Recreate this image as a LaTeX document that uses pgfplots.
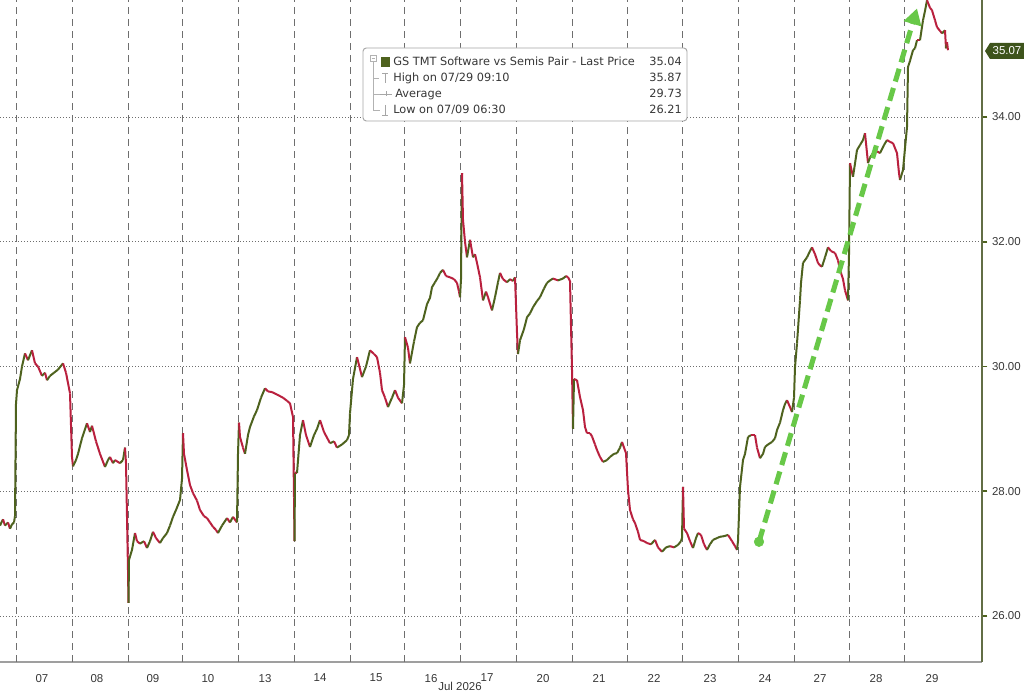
\documentclass[border=0pt]{standalone}
\usepackage{pgfplots}
\pgfplotsset{compat=1.18}
\usepackage{pgfplotstable}
\usepackage{fontspec}
\setmainfont{Liberation Sans}
\newfontfamily\legfont{DejaVu Sans}
\usetikzlibrary{arrows.meta}

\definecolor{upc}{RGB}{78,98,30}
\definecolor{dnc}{RGB}{185,32,62}
\definecolor{arrowgreen}{RGB}{104,200,72}
\definecolor{boxgreen}{RGB}{62,84,28}
\definecolor{gridc}{RGB}{110,110,110}
\definecolor{txt}{RGB}{55,55,55}

% x: position on the chart (intraday time, px scale), y: price
\pgfplotstableread{
x y
0 27.45
3 27.55
5 27.45
8 27.5
10 27.4
12 27.47
14 27.5
15 27.6
16 29.4
17 29.62
20 29.8
22 30.0
25 30.21
28 30.1
32 30.26
35 30.05
38 30.0
42 29.85
45 29.9
47 29.78
50 29.85
54 29.9
58 29.95
63 30.05
66 29.9
70 29.57
72 28.55
73 28.4
76 28.5
78 28.6
82 28.85
87 29.09
90 28.95
92 29.05
96 28.8
100 28.6
105 28.39
108 28.5
110 28.55
113 28.45
115 28.5
120 28.45
123 28.5
125 28.7
126 28.45
128 26.74
128.5 26.21
129 26.9
132 27.06
135 27.33
137 27.2
140 27.16
144 27.2
147 27.09
150 27.2
153 27.35
156 27.25
160 27.17
163 27.25
167 27.33
170 27.45
173 27.59
176 27.7
180 27.86
182 28.2
183 28.93
184 28.6
187 28.34
190 28.1
193 27.97
197 27.85
200 27.7
204 27.6
207 27.57
210 27.5
213 27.43
216 27.38
218 27.33
222 27.45
227 27.57
230 27.5
233 27.59
237 27.5
238 28.6
239 29.1
240 28.87
243 28.7
245 28.6
248 28.9
250 29.03
254 29.2
257 29.3
261 29.5
265 29.65
268 29.6
272 29.59
277 29.55
283 29.5
287 29.45
290 29.41
293 29.19
294 27.9
294.5 27.2
295 28.3
297 28.29
300 28.9
303 29.14
306 28.9
310 28.71
314 28.9
317 29.0
320 29.14
324 28.95
330 28.77
334 28.8
337 28.7
342 28.75
347 28.82
349 28.9
350 29.25
353 29.8
357 30.15
362 29.83
366 30.0
370 30.26
374 30.2
377 30.15
380 29.9
382 29.62
385 29.5
388 29.35
392 29.5
395 29.62
398 29.5
402 29.41
404 29.7
405 30.47
408 30.3
410 30.05
414 30.4
417 30.63
420 30.7
423 30.74
427 31.0
430 31.1
432 31.27
435 31.35
438 31.43
440 31.5
443 31.55
446 31.45
450 31.43
454 31.4
457 31.34
459 31.2
460 31.11
461 31.4
462 33.1
463 32.35
465 32.0
467 31.75
470 32.03
473 31.75
475 31.8
477 31.66
480 31.43
483 31.06
486 31.2
488 31.11
492 30.9
495 31.11
498 31.35
500 31.5
503 31.4
507 31.35
510 31.4
513 31.37
515 31.43
517 30.54
518 30.2
520 30.42
524 30.6
527 30.79
530 30.85
533 30.95
537 31.05
540 31.11
544 31.25
547 31.34
550 31.38
553 31.41
558 31.38
563 31.41
566 31.45
568 31.43
570 31.37
572 29.94
573 29.0
574 29.8
577 29.78
580 29.51
583 29.3
585 29.03
587 28.93
590 28.93
592 28.88
595 28.75
597 28.66
600 28.55
603 28.47
607 28.5
610 28.55
614 28.6
617 28.61
620 28.7
622 28.79
626 28.61
628 28.02
630 27.7
633 27.55
635 27.49
638 27.35
640 27.22
644 27.2
647 27.17
651 27.15
655 27.22
658 27.1
662 27.03
666 27.1
670 27.12
674 27.1
678 27.14
681 27.2
682 27.25
683 28.07
684 27.4
687 27.33
690 27.2
693 27.09
696 27.25
698 27.33
701 27.3
704 27.15
707 27.06
710 27.15
713 27.22
717 27.25
720 27.27
724 27.28
728 27.3
732 27.2
735 27.12
737 27.06
738 27.2
740 28.07
743 28.5
745 28.6
748 28.87
751 28.9
755 28.9
757 28.7
760 28.53
763 28.6
765 28.71
768 28.75
772 28.79
775 28.85
777 28.98
780 29.1
783 29.3
785 29.4
787 29.46
790 29.35
792 29.27
794 29.5
795 29.99
797 30.37
800 31.06
801 31.34
803 31.66
807 31.75
810 31.85
812 31.91
815 31.8
818 31.66
820 31.62
822 31.6
825 31.75
828 31.91
831 31.85
835 31.82
838 31.7
840 31.55
843 31.4
845 31.22
848 31.06
849 31.8
850 33.26
853 33.04
857 33.47
860 33.55
863 33.63
865 33.74
868 33.26
870 33.35
873 33.42
877 33.45
880 33.42
884 33.55
887 33.63
890 33.6
893 33.58
897 33.42
899 33.1
900 32.99
903 33.15
905 33.5
907 33.84
908 34.8
910 34.9
913 35.07
915 35.1
917 35.23
920 35.23
923 35.55
925 35.7
927 35.87
930 35.75
932 35.71
935 35.55
937 35.44
940 35.38
942 35.34
945 35.39
946 35.1
947 35.2
948 35.07
}\pairdata
\pgfplotstablecreatecol[create col/expr={\nextrow{y}-\thisrow{y}}]{d}\pairdata

\begin{document}
\begin{tikzpicture}[font=\fontsize{8.6}{10}\selectfont]
\useasboundingbox (0,0) rectangle (768pt,519pt);
\begin{axis}[
    at={(0pt,22.5pt)}, anchor=south west,
    scale only axis, width=736.5pt, height=496.5pt,
    xmin=0, xmax=982, ymin=25.263, ymax=35.875,
    axis x line*=bottom, axis y line*=right,
    x axis line style={draw=gray!75, line width=0.8pt},
    y axis line style={draw=upc!60!gray, line width=0.8pt},
    xtick={42,97,153,208,265,320,376,431,487,543,599,654,710,765,820,876,932},
    xticklabels={07,08,09,10,13,14,15,16,17,20,21,22,23,24,27,28,29},
    xtick style={draw=none},
    xticklabel style={text=txt, yshift=-1.5pt},
    extra x ticks={16,72,128,182,238,294,350,404,460,516,572,627,682,738,794,849,904},
    extra x tick labels={},
    extra x tick style={grid=major, tick style={draw=none},
        major grid style={draw=gridc, line width=0.6pt, dash pattern=on 5.25pt off 3.75pt}},
    ytick={26,28,30,32,34},
    ymajorgrids=true,
    y grid style={draw=gridc, line width=0.6pt, dash pattern=on 0.75pt off 1.5pt},
    ytick style={draw=upc, line width=1.3pt},
    major tick length=4pt, tick align=outside,
    yticklabel style={text=txt, /pgf/number format/fixed, /pgf/number format/fixed zerofill,
        /pgf/number format/precision=2, /pgf/number format/assume math mode=true},
    colormap={updown}{color=(dnc) color=(upc)},
    colormap access=piecewise constant,
    point meta min=0, point meta max=1,
]
\addplot[mesh, shader=flat corner, line width=1.5pt, point meta={\thisrow{d}>0}]
    table[x=x, y=y] {\pairdata};

\addplot[arrowgreen, line width=3.8pt, dash pattern=on 10pt off 5pt,
    -{Triangle[length=12pt, width=13pt]}]
    coordinates {(759,27.19) (917,35.74)};
\addplot[only marks, mark=*, mark size=3.6pt, arrowgreen] coordinates {(759,27.19)};
\end{axis}

\begin{scope}[x=0.75pt, y=-0.75pt, yshift=519pt]
  % legend box
  \draw[gray!70, line width=0.7pt, fill=white, rounded corners=2.5pt] (363,48) rectangle (687,121);
  \draw[gray!60, line width=0.5pt] (370,55) rectangle (376,61);
  \draw[gray!60, line width=0.5pt] (371.5,58) -- (374.5,58);
  \draw[gray!60, line width=0.5pt] (373,61) -- (373,110) -- (380,110);
  \draw[gray!60, line width=0.5pt] (373,78) -- (379,78);
  \draw[gray!60, line width=0.5pt] (373,94) -- (380,94);
  \fill[upc] (381,57) rectangle (390,67);
  \draw[gray!70, line width=0.6pt] (385,73) -- (385,83) (382,73) -- (388,73);
  \draw[gray!70, line width=0.6pt] (380,94) -- (392,94) (386,91.5) -- (386,96.5);
  \draw[gray!70, line width=0.6pt] (385,105) -- (385,115) (382,115) -- (388,115);
  \begin{scope}[font=\legfont\fontsize{8.5}{10}\selectfont]
  \node[anchor=base west, inner sep=0, text=txt] at (393,66) {GS TMT Software vs Semis Pair - Last Price};
  \node[anchor=base west, inner sep=0, text=txt] at (393,82) {High on 07/29 09:10};
  \node[anchor=base west, inner sep=0, text=txt] at (395,98) {Average};
  \node[anchor=base west, inner sep=0, text=txt] at (393,114) {Low on 07/09 06:30};
  \node[anchor=base east, inner sep=0, text=txt] at (682,66) {35.04};
  \node[anchor=base east, inner sep=0, text=txt] at (682,82) {35.87};
  \node[anchor=base east, inner sep=0, text=txt] at (682,98) {29.73};
  \node[anchor=base east, inner sep=0, text=txt] at (682,114) {26.21};
  \end{scope}
  % last price tag
  \fill[boxgreen] (985,51) -- (990,43) -- (1024,43) -- (1024,59) -- (990,59) -- cycle;
  \node[text=white, inner sep=0] at (1007,51) {35.07};
  % month label
  \node[text=txt, inner sep=0, anchor=base] at (460,691) {Jul 2026};
\end{scope}
\end{tikzpicture}
\end{document}
